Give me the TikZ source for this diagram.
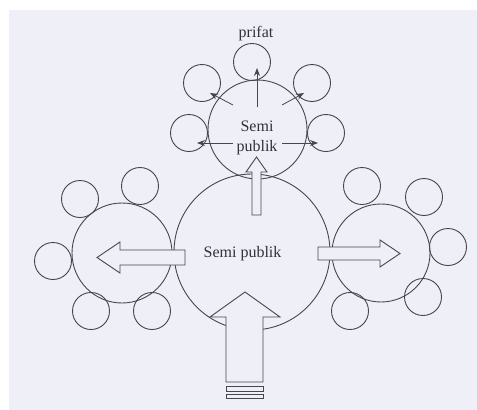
\documentclass[tikz,border=0pt]{standalone}
\usepackage{fontspec}
\setmainfont{Liberation Serif}
\usetikzlibrary{arrows.meta}
\definecolor{planBack}{RGB}{239,239,248}
\definecolor{planLine}{RGB}{70,70,76}
\definecolor{planText}{RGB}{50,50,56}

\begin{document}
\begin{tikzpicture}[
  x=1pt, y=-1pt,
  space/.style={
    draw=planLine,
    circle,
    line width=0.9pt,
    inner sep=0pt
  },
  room/.style={space, minimum size=37pt},
  label/.style={text=planText, font=\fontsize{16}{20}\selectfont, align=center},
  block/.style={draw=planLine, fill=planBack, line width=0.9pt},
  pointer/.style={-{Stealth[length=8pt,width=6pt]},planLine,line width=0.8pt}
]
  \useasboundingbox (0,0) rectangle (477,410);
  \fill[planBack] (9,10) rectangle (477,410);

  % semi public spaces
  \node[space, minimum size=156pt] (hall) at (252,252) {};
  \node[space, minimum size=99pt] (upper) at (257.5,129.5) {};
  \node[space, minimum size=100pt] (west) at (122,253) {};
  \node[space, minimum size=98pt] (east) at (381,253) {};

  % private rooms
  \node[room] (up1) at (252,62) {};
  \node[room] (up2) at (202,83) {};
  \node[room] (up3) at (312,83) {};
  \node[room] (up4) at (189,133) {};
  \node[room] (up5) at (326,133) {};
  \node[room] (w1) at (80,199) {};
  \node[room] (w2) at (140,186) {};
  \node[room] (w3) at (53,261) {};
  \node[room] (w4) at (91,311) {};
  \node[room] (w5) at (152,311) {};
  \node[room] (e1) at (362,186) {};
  \node[room] (e2) at (424,197) {};
  \node[room] (e3) at (448,247) {};
  \node[room] (e4) at (423,297) {};
  \node[room] (e5) at (350,311) {};

  \node[label] (prifat) at (256,34) {prifat};
  \node[label] (upperText) at (257,138) {Semi\\publik};
  \node[label] (hallText) at (242.5,254) {Semi publik};

  % circulation from the upper space
  \coordinate (from1) at (257,107);
  \coordinate (to1) at (257,68);
  \coordinate (from2) at (233,105);
  \coordinate (to2) at (210,93);
  \coordinate (from3) at (282,105);
  \coordinate (to3) at (304,93);
  \coordinate (from4) at (233,143);
  \coordinate (to4) at (197,143);
  \coordinate (from5) at (282,143);
  \coordinate (to5) at (318,143);
  \draw[pointer] (from1) -- (to1);
  \draw[pointer] (from2) -- (to2);
  \draw[pointer] (from3) -- (to3);
  \draw[pointer] (from4) -- (to4);
  \draw[pointer] (from5) -- (to5);

  % block arrows
  \draw[block] (252,215) -- (252,172) -- (246,172) -- (256.5,157)
    -- (267,172) -- (261,172) -- (261,215) -- cycle;
  \draw[block] (185,250) -- (120,250) -- (120,242) -- (97,257.5)
    -- (120,273) -- (120,265) -- (185,265) -- cycle;
  \draw[block] (318,247) -- (380,247) -- (380,240) -- (400,253.5)
    -- (380,267) -- (380,260) -- (318,260) -- cycle;
  \draw[block] (226,382) -- (226,317) -- (210,317) -- (245,292)
    -- (280,317) -- (263,317) -- (263,382) -- cycle;
  \draw[block] (226,386) rectangle (263,391);
  \draw[block] (226,394) rectangle (263,398);
\end{tikzpicture}
\end{document}
